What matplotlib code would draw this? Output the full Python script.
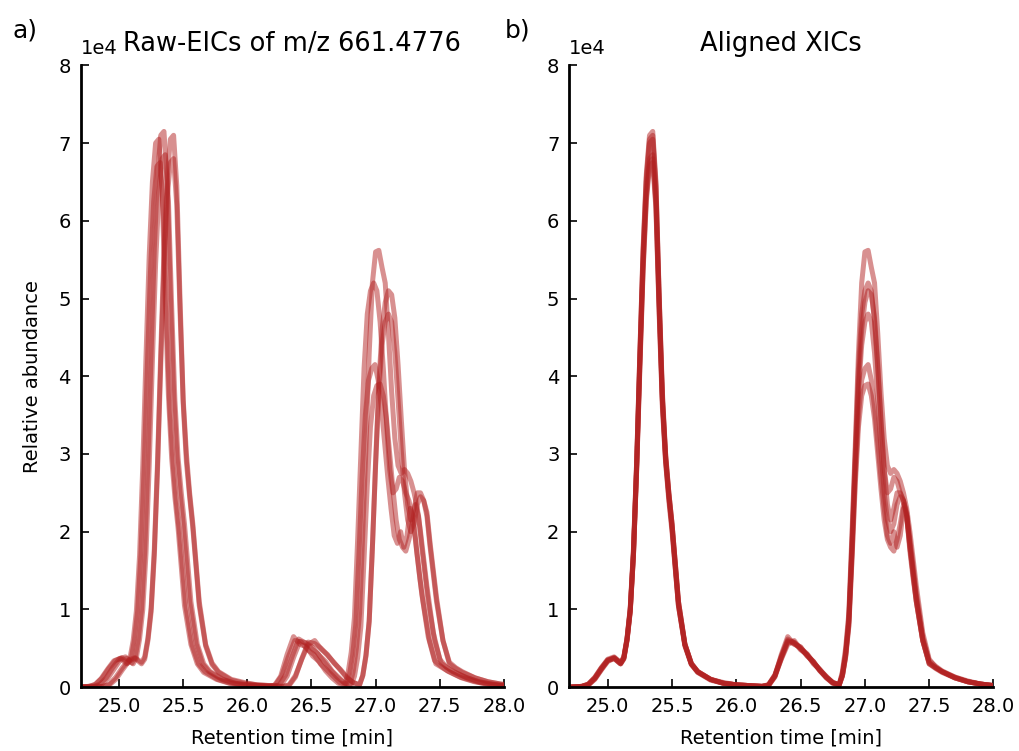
#!/usr/bin/env python3
"""Overlay of extracted ion chromatograms before and after retention time alignment."""

import matplotlib

matplotlib.use("Agg")
import matplotlib.pyplot as plt
import numpy as np


# ---------------------------------------------------------------------------
# Data: intensities (x 1e4) on the aligned retention time grid [min]
# ---------------------------------------------------------------------------

rt_aligned = [
    24.6, 24.7, 24.8, 24.85, 24.9, 24.95, 25.0, 25.05, 25.1, 25.125,
    25.15, 25.175, 25.2, 25.225, 25.25, 25.275, 25.3, 25.325, 25.35, 25.375,
    25.4, 25.425, 25.45, 25.475, 25.5, 25.55, 25.6, 25.65, 25.7, 25.8,
    25.9, 26.0, 26.1, 26.2, 26.25, 26.3, 26.35, 26.4, 26.45, 26.5,
    26.55, 26.6, 26.65, 26.7, 26.75, 26.8, 26.825, 26.85, 26.875, 26.9,
    26.925, 26.95, 26.975, 27.0, 27.025, 27.05, 27.075, 27.1, 27.125, 27.15,
    27.175, 27.2, 27.225, 27.25, 27.275, 27.3, 27.325, 27.35, 27.375, 27.4,
    27.45, 27.5, 27.55, 27.6, 27.7, 27.8, 27.9, 28.0, 28.1,
]

sample_1 = [
    0, 0, 0.01, 0.04, 0.12, 0.25, 0.36, 0.39, 0.31, 0.38,
    0.62, 1.0, 1.75, 2.9, 4.3, 5.65, 6.6, 7.1, 7.15, 6.5,
    5.05, 3.8, 3.0, 2.5, 2.1, 1.1, 0.56, 0.3, 0.2, 0.1,
    0.05, 0.03, 0.02, 0.01, 0.03, 0.16, 0.4, 0.62, 0.57, 0.5,
    0.43, 0.32, 0.22, 0.13, 0.06, 0.03, 0.2, 0.5, 0.95, 2.0,
    3.1, 4.3, 5.2, 5.6, 5.62, 5.4, 5.2, 4.55, 3.8, 3.2,
    2.85, 2.75, 2.8, 2.75, 2.65, 2.5, 2.3, 2.0, 1.65, 1.3,
    0.7, 0.36, 0.26, 0.2, 0.13, 0.07, 0.04, 0.02, 0,
]
sample_2 = [
    0, 0, 0.01, 0.03, 0.11, 0.23, 0.34, 0.37, 0.3, 0.37,
    0.6, 0.98, 1.7, 2.85, 4.25, 5.55, 6.5, 7.0, 7.05, 6.4,
    5.0, 3.75, 2.95, 2.45, 2.05, 1.05, 0.55, 0.3, 0.19, 0.1,
    0.05, 0.03, 0.02, 0.01, 0.02, 0.14, 0.42, 0.65, 0.55, 0.52,
    0.4, 0.33, 0.21, 0.12, 0.05, 0.03, 0.18, 0.45, 0.9, 1.9,
    3.0, 4.1, 4.8, 5.1, 5.2, 5.1, 4.7, 4.1, 3.4, 2.8,
    2.5, 2.55, 2.7, 2.65, 2.5, 2.4, 2.2, 1.9, 1.55, 1.2,
    0.65, 0.34, 0.27, 0.21, 0.13, 0.08, 0.04, 0.02, 0,
]
sample_3 = [
    0, 0, 0.01, 0.04, 0.13, 0.25, 0.35, 0.38, 0.32, 0.39,
    0.63, 1.02, 1.78, 2.9, 4.3, 5.6, 6.55, 7.05, 7.1, 6.45,
    5.0, 3.7, 3.0, 2.5, 2.1, 1.1, 0.55, 0.31, 0.2, 0.1,
    0.06, 0.03, 0.02, 0.01, 0.03, 0.15, 0.36, 0.55, 0.6, 0.49,
    0.42, 0.31, 0.23, 0.13, 0.06, 0.03, 0.15, 0.4, 0.85, 1.8,
    2.9, 3.9, 4.6, 4.95, 5.1, 5.05, 4.75, 4.15, 3.45, 2.8,
    2.35, 2.15, 2.3, 2.5, 2.5, 2.4, 2.25, 1.85, 1.5, 1.15,
    0.6, 0.32, 0.25, 0.2, 0.12, 0.07, 0.04, 0.02, 0,
]
sample_4 = [
    0, 0, 0.01, 0.03, 0.1, 0.22, 0.33, 0.37, 0.3, 0.36,
    0.6, 0.97, 1.7, 2.8, 4.15, 5.4, 6.3, 6.75, 6.8, 6.2,
    4.85, 3.65, 2.9, 2.45, 2.05, 1.05, 0.53, 0.29, 0.19, 0.09,
    0.05, 0.03, 0.02, 0.01, 0.02, 0.13, 0.37, 0.58, 0.56, 0.5,
    0.41, 0.32, 0.22, 0.12, 0.06, 0.03, 0.15, 0.42, 0.85, 1.8,
    2.85, 3.8, 4.4, 4.7, 4.8, 4.7, 4.3, 3.7, 3.05, 2.5,
    2.15, 2.0, 2.1, 2.35, 2.45, 2.4, 2.2, 1.8, 1.45, 1.1,
    0.6, 0.3, 0.24, 0.19, 0.12, 0.07, 0.04, 0.02, 0,
]
sample_5 = [
    0, 0, 0.01, 0.04, 0.12, 0.24, 0.34, 0.38, 0.31, 0.37,
    0.61, 0.98, 1.7, 2.8, 4.1, 5.35, 6.25, 6.7, 6.75, 6.15,
    4.8, 3.6, 2.9, 2.4, 2.0, 1.05, 0.54, 0.3, 0.2, 0.1,
    0.05, 0.03, 0.02, 0.01, 0.03, 0.15, 0.39, 0.6, 0.58, 0.48,
    0.42, 0.3, 0.22, 0.14, 0.06, 0.03, 0.15, 0.4, 0.8, 1.7,
    2.7, 3.5, 3.95, 4.1, 4.15, 3.95, 3.6, 3.15, 2.7, 2.3,
    1.95, 1.85, 2.0, 1.8, 1.95, 2.3, 2.2, 1.75, 1.4, 1.1,
    0.6, 0.3, 0.25, 0.2, 0.12, 0.07, 0.04, 0.02, 0,
]
sample_6 = [
    0, 0, 0.01, 0.03, 0.11, 0.23, 0.35, 0.37, 0.3, 0.38,
    0.62, 1.0, 1.72, 2.85, 4.2, 5.45, 6.35, 6.8, 6.85, 6.25,
    4.9, 3.7, 2.95, 2.5, 2.1, 1.1, 0.55, 0.3, 0.2, 0.1,
    0.05, 0.03, 0.02, 0.01, 0.02, 0.14, 0.38, 0.59, 0.57, 0.51,
    0.41, 0.33, 0.21, 0.13, 0.05, 0.03, 0.14, 0.38, 0.78, 1.65,
    2.6, 3.35, 3.75, 3.88, 3.9, 3.75, 3.45, 3.0, 2.55, 2.15,
    1.9, 1.8, 1.75, 1.9, 2.1, 2.35, 2.2, 1.8, 1.45, 1.1,
    0.6, 0.31, 0.25, 0.2, 0.12, 0.07, 0.04, 0.02, 0,
]

samples = [sample_1, sample_2, sample_3, sample_4, sample_5, sample_6]

# Retention time drift of each raw run relative to the aligned grid [min]
raw_shift = [0.0, -0.04, 0.075, 0.075, -0.03, 0.01]

panel_labels = ["a)", "b)"]
panel_titles = ["Raw-EICs of m/z 661.4776", "Aligned XICs"]

LINE_COLOR = "#b22222"
LINE_ALPHA = 0.5
LINE_WIDTH = 3.6


# ---------------------------------------------------------------------------
# Figure
# ---------------------------------------------------------------------------

plt.rcParams["font.family"] = "DejaVu Sans"

fig = plt.figure(figsize=(10.2, 7.51), dpi=100)
ax_raw = fig.add_axes([0.079, 0.085, 0.415, 0.828])
ax_aligned = fig.add_axes([0.558, 0.085, 0.416, 0.828])

rt = np.asarray(rt_aligned)
for values, shift in zip(samples, raw_shift, strict=True):
    intensity = np.asarray(values) * 1e4
    ax_raw.plot(rt + shift, intensity, color=LINE_COLOR, alpha=LINE_ALPHA,
                lw=LINE_WIDTH, solid_capstyle="round", solid_joinstyle="round")
    ax_aligned.plot(rt, intensity, color=LINE_COLOR, alpha=LINE_ALPHA,
                    lw=LINE_WIDTH, solid_capstyle="round", solid_joinstyle="round")

for axis, title in zip([ax_raw, ax_aligned], panel_titles):
    axis.set_xlim(24.7, 28.0)
    axis.set_ylim(0, 8e4)
    axis.set_xticks([25.0, 25.5, 26.0, 26.5, 27.0, 27.5, 28.0])
    axis.set_xticklabels(["25.0", "25.5", "26.0", "26.5", "27.0", "27.5", "28.0"])
    axis.ticklabel_format(axis="y", style="sci", scilimits=(0, 0))
    axis.yaxis.get_offset_text().set_fontsize(14)
    axis.yaxis.OFFSETTEXTPAD = 8
    axis.spines["top"].set_visible(False)
    axis.spines["right"].set_visible(False)
    axis.spines["left"].set_linewidth(2)
    axis.spines["bottom"].set_linewidth(2)
    axis.tick_params(direction="in", length=6, width=1.2, labelsize=14, pad=7,
                     top=False, right=False)
    axis.set_xlabel("Retention time [min]", fontsize=14, labelpad=9)
    axis.set_title(title, fontsize=18.5, pad=10)

ax_raw.set_ylabel("Relative abundance", fontsize=14, labelpad=12)

fig.text(0.012, 0.975, panel_labels[0], fontsize=18, va="top", ha="left")
fig.text(0.495, 0.975, panel_labels[1], fontsize=18, va="top", ha="left")

fig.savefig("out.png", dpi=100)
